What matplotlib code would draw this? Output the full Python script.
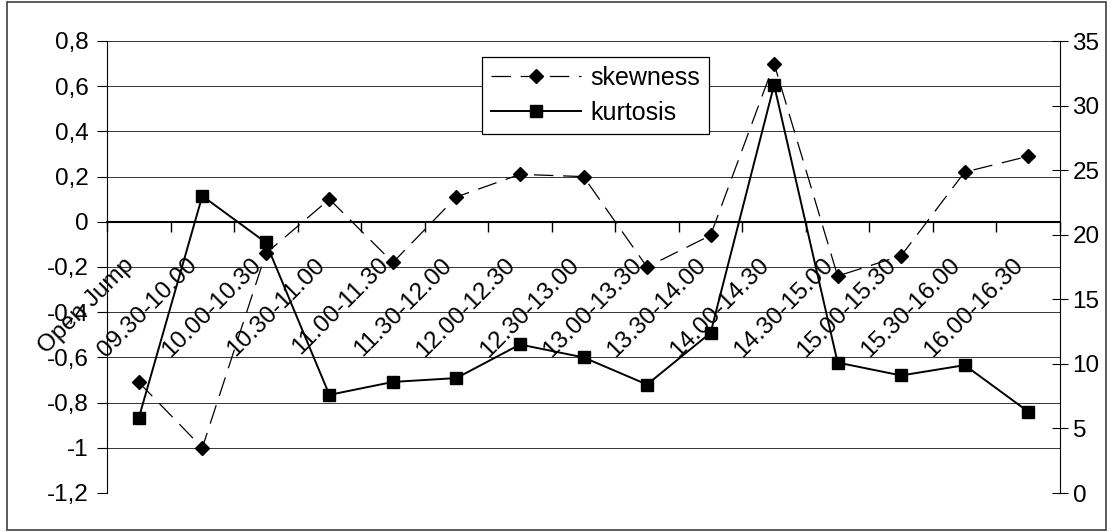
import matplotlib
matplotlib.use("Agg")
import matplotlib.pyplot as plt
import numpy as np
from matplotlib.ticker import FuncFormatter, FixedLocator
from matplotlib.patches import Rectangle

plt.rcParams['font.family'] = ['Liberation Sans', 'DejaVu Sans']
plt.rcParams['lines.scale_dashes'] = False

# categories (time slots)
slots = ["Open Jump", "09.30-10.00", "10.00-10.30", "10.30-11.00", "11.00-11.30",
         "11.30-12.00", "12.00-12.30", "12.30-13.00", "13.00-13.30", "13.30-14.00",
         "14.00-14.30", "14.30-15.00", "15.00-15.30", "15.30-16.00", "16.00-16.30"]

# left axis series
skewness = [-0.71, -1.00, -0.14, 0.10, -0.18, 0.11, 0.21, 0.20, -0.20, -0.06,
            0.70, -0.24, -0.15, 0.22, 0.29]
# right axis series
kurtosis = [5.8, 23.0, 19.4, 7.6, 8.6, 8.9, 11.5, 10.5, 8.4, 12.4,
            31.6, 10.1, 9.1, 9.9, 6.3]

left_ticks = [-1.2, -1.0, -0.8, -0.6, -0.4, -0.2, 0.0, 0.2, 0.4, 0.6, 0.8]
right_ticks = [0, 5, 10, 15, 20, 25, 30, 35]

W, H = 1112, 532
fig = plt.figure(figsize=(W / 100, H / 100), dpi=100)
ax = fig.add_axes([107 / W, 1 - 493 / H, (1060 - 107) / W, (493 - 41) / H])
ax2 = ax.twinx()

x = np.arange(len(slots))
fs = 17.5

def comma(v, pos=None):
    v = round(v, 1)
    if v == 0:
        return "0"
    return f"{v:g}".replace(".", ",")

# left axis
ax.set_xlim(-0.5, len(slots) - 0.5)
ax.set_ylim(-1.2, 0.8)
ax.yaxis.set_major_locator(FixedLocator(left_ticks))
ax.yaxis.set_major_formatter(FuncFormatter(comma))
ax.yaxis.grid(True, color="#333333", lw=0.7)
ax.set_axisbelow(True)
for s in ["top", "right"]:
    ax.spines[s].set_visible(False)
ax.spines["left"].set_color("black")
ax.spines["bottom"].set_position(("data", 0))
ax.spines["bottom"].set_linewidth(1.5)
ax.set_xticks(np.arange(-0.5, len(slots), 1))
ax.set_xticklabels([])
ax.tick_params(axis="x", direction="out", length=7, width=1)
ax.tick_params(axis="y", direction="out", length=7, labelsize=fs, pad=6)

# right axis
ax2.set_ylim(0, 35)
ax2.yaxis.set_major_locator(FixedLocator(right_ticks))
for s in ["top", "left", "bottom"]:
    ax2.spines[s].set_visible(False)
ax2.tick_params(axis="y", direction="inout", length=12, labelsize=fs, pad=3)

# category labels, rotated, hanging below the zero line
for i, lab in enumerate(slots):
    ax.annotate(lab, xy=(i, 0), xytext=(-8, -40), textcoords="offset pixels",
                rotation=45, rotation_mode="anchor", ha="right", va="center",
                fontsize=fs, annotation_clip=False)

l1, = ax.plot(x, skewness, color="black", lw=0.9, dashes=(14, 7),
              marker="D", markersize=7, markerfacecolor="black",
              markeredgecolor="black", label="skewness")
l2, = ax2.plot(x, kurtosis, color="black", lw=1.4, marker="s", markersize=8,
               markerfacecolor="black", markeredgecolor="black", label="kurtosis")

leg = ax2.legend([l1, l2], ["skewness", "kurtosis"], loc="upper left",
                 bbox_to_anchor=(482 / W, 1 - 57 / H), bbox_transform=fig.transFigure,
                 borderaxespad=0, fancybox=False, framealpha=1, edgecolor="black",
                 fontsize=fs + 0.5, handlelength=3.6, handletextpad=0.4,
                 labelspacing=0.45, borderpad=0.35, numpoints=1)
leg.get_frame().set_linewidth(0.9)

# outer chart border
fig.patches.append(Rectangle((7 / W, 2 / H), (1106 - 7) / W, (530 - 2) / H,
                             transform=fig.transFigure, fill=False,
                             edgecolor="#404040", lw=1.2))

fig.savefig("out.png", dpi=100)
